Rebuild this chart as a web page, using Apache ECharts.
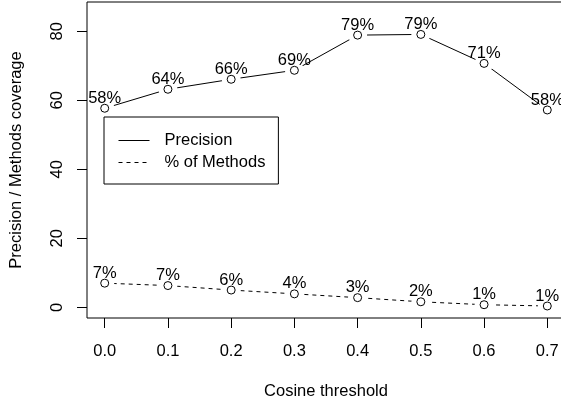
<!DOCTYPE html>
<html>
<head>
<meta charset="utf-8">
<script src="https://cdn.jsdelivr.net/npm/echarts@6/dist/echarts.min.js"></script>
<style>html,body{margin:0;padding:0;background:#fff;}#c{width:561px;height:404px;}</style>
</head>
<body>
<div id="c"></div>
<script>
var thresholds = [0.0, 0.1, 0.2, 0.3, 0.4, 0.5, 0.6, 0.7];
var precision = [57.7, 63.2, 66.1, 68.7, 78.9, 79.1, 70.7, 57.2];
var precisionLabels = ['58%', '64%', '66%', '69%', '79%', '79%', '71%', '58%'];
var coverage = [7.0, 6.3, 5.0, 3.9, 2.8, 1.6, 0.75, 0.38];
var coverageLabels = ['7%', '7%', '6%', '4%', '3%', '2%', '1%', '1%'];
var xTicks = [0, 0.1, 0.2, 0.3, 0.4, 0.5, 0.6, 0.7];
var yTicks = [0, 20, 40, 60, 80];

var FONT = 'Liberation Sans';
var FS = 16.5;

function pairs(vals) { return thresholds.map(function (t, i) { return [t, vals[i]]; }); }

var chart = echarts.init(document.getElementById('c'), null, { renderer: 'canvas' });
var option = {
  backgroundColor: '#fff',
  animation: false,
  textStyle: { fontFamily: FONT, color: '#000' },
  grid: {
    left: 87, top: 2, width: 478, height: 316,
    show: true, borderColor: '#000', borderWidth: 1,
    outerBoundsMode: 'none', containLabel: false
  },
  legend: {
    left: 104, top: 117,
    orient: 'vertical',
    padding: [15, 13, 13, 14],
    itemWidth: 31, itemHeight: 14, itemGap: 5,
    borderColor: '#000', borderWidth: 1, borderRadius: 0,
    backgroundColor: '#fff',
    z: 10,
    itemStyle: { opacity: 0 },
    lineStyle: { width: 1 },
    data: ['Precision', '% of Methods'],
    textStyle: { fontFamily: FONT, fontSize: FS, color: '#000', padding: [0, 0, 0, 10] }
  },
  xAxis: {
    type: 'value',
    min: -0.028, max: 0.728,
    name: 'Cosine threshold',
    nameLocation: 'middle', nameGap: 65,
    nameTextStyle: { fontFamily: FONT, fontSize: FS, color: '#000' },
    axisLine: { show: false, onZero: false },
    splitLine: { show: false },
    axisTick: { show: true, length: 10, customValues: xTicks, lineStyle: { color: '#000', width: 1 } },
    axisLabel: {
      customValues: xTicks, margin: 25,
      fontFamily: FONT, fontSize: FS, color: '#000',
      formatter: function (v) { return v.toFixed(1); }
    }
  },
  yAxis: {
    type: 'value',
    min: -3.1, max: 88.5,
    name: 'Precision / Methods coverage',
    nameLocation: 'middle', nameGap: 62,
    nameTextStyle: { fontFamily: FONT, fontSize: FS, color: '#000' },
    axisLine: { show: false, onZero: false },
    splitLine: { show: false },
    axisTick: { show: true, length: 10, customValues: yTicks, lineStyle: { color: '#000', width: 1 } },
    axisLabel: {
      customValues: yTicks, margin: 21, rotate: 90,
      fontFamily: FONT, fontSize: FS, color: '#000'
    }
  },
  series: [
    {
      name: 'Precision', type: 'line', data: pairs(precision),
      symbol: 'none', z: 2,
      lineStyle: { color: '#000', width: 1, type: 'solid' },
      itemStyle: { color: '#000' }
    },
    {
      name: '% of Methods', type: 'line', data: pairs(coverage),
      symbol: 'none', z: 2,
      lineStyle: { color: '#000', width: 1, type: [4, 4] },
      itemStyle: { color: '#000' }
    },
    {
      name: 'gapP', type: 'scatter', data: pairs(precision), z: 3, silent: true,
      symbol: 'circle', symbolSize: 19, clip: false,
      itemStyle: { color: '#fff', borderWidth: 0, opacity: 1 }
    },
    {
      name: 'gapC', type: 'scatter', data: pairs(coverage), z: 3, silent: true,
      symbol: 'circle', symbolSize: 19, clip: false,
      itemStyle: { color: '#fff', borderWidth: 0, opacity: 1 }
    },
    {
      name: 'ptP', type: 'scatter', data: pairs(precision), z: 4, clip: false,
      symbol: 'circle', symbolSize: 8,
      itemStyle: { color: '#fff', borderColor: '#000', borderWidth: 1, opacity: 1 },
      label: {
        show: true, position: 'top', distance: -3,
        fontFamily: FONT, fontSize: FS, color: '#000', opacity: 1,
        formatter: function (p) { return precisionLabels[p.dataIndex]; }
      }
    },
    {
      name: 'ptC', type: 'scatter', data: pairs(coverage), z: 4, clip: false,
      symbol: 'circle', symbolSize: 8,
      itemStyle: { color: '#fff', borderColor: '#000', borderWidth: 1, opacity: 1 },
      label: {
        show: true, position: 'top', distance: -3,
        fontFamily: FONT, fontSize: FS, color: '#000', opacity: 1,
        formatter: function (p) { return coverageLabels[p.dataIndex]; }
      }
    }
  ]
};
chart.setOption(option);
</script>
</body>
</html>
